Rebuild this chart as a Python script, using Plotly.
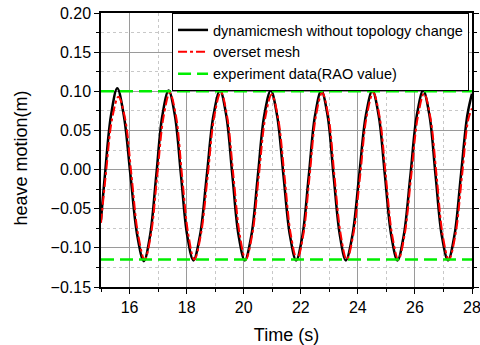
import plotly.graph_objects as go

# ---- data ----
t_dyn = [15.00, 15.135, 15.35, 15.57, 15.80, 16.035, 16.27, 16.50, 16.72, 16.935, 17.15, 17.37,
         17.59, 17.805, 18.02, 18.24, 18.47, 18.705, 18.94, 19.17, 19.39, 19.605, 19.82, 20.04,
         20.27, 20.495, 20.72, 20.95, 21.17, 21.395, 21.62, 21.84, 22.06, 22.28, 22.50, 22.72,
         22.94, 23.15, 23.37, 23.58, 23.81, 24.045, 24.28, 24.51, 24.73, 24.95, 25.17, 25.39,
         25.61, 25.84, 26.065, 26.29, 26.51, 26.725, 26.94, 27.16, 27.385, 27.61, 27.835, 28.00]
h_dyn = [-0.064, -0.008, 0.069, 0.104, 0.069, -0.008, -0.084, -0.117, -0.084, -0.008, 0.069, 0.101,
         0.069, -0.008, -0.084, -0.116, -0.084, -0.008, 0.069, 0.101, 0.069, -0.008, -0.084, -0.116,
         -0.084, -0.008, 0.069, 0.101, 0.069, -0.008, -0.084, -0.116, -0.084, -0.008, 0.069, 0.101,
         0.069, -0.008, -0.084, -0.116, -0.084, -0.008, 0.069, 0.101, 0.069, -0.008, -0.084, -0.116,
         -0.084, -0.008, 0.069, 0.101, 0.069, -0.008, -0.084, -0.116, -0.084, -0.008, 0.069, 0.097]

t_ovs = [15.00, 15.17, 15.39, 15.61, 15.84, 16.07, 16.30, 16.53, 16.75, 16.97, 17.19, 17.41,
         17.63, 17.84, 18.06, 18.27, 18.50, 18.74, 18.97, 19.20, 19.42, 19.64, 19.86, 20.07,
         20.30, 20.53, 20.76, 20.98, 21.20, 21.43, 21.65, 21.87, 22.09, 22.31, 22.53, 22.75,
         22.97, 23.18, 23.40, 23.61, 23.84, 24.08, 24.31, 24.54, 24.76, 24.98, 25.20, 25.42,
         25.64, 25.87, 26.10, 26.32, 26.54, 26.76, 26.97, 27.19, 27.42, 27.65, 27.87, 28.00]
h_ovs = [-0.068, -0.006, 0.065, 0.093, 0.066, -0.008, -0.083, -0.115, -0.083, -0.008, 0.067, 0.098,
         0.068, -0.008, -0.083, -0.115, -0.083, -0.008, 0.068, 0.099, 0.068, -0.008, -0.083, -0.115,
         -0.083, -0.008, 0.067, 0.096, 0.067, -0.008, -0.083, -0.115, -0.083, -0.008, 0.068, 0.098,
         0.068, -0.008, -0.083, -0.115, -0.083, -0.008, 0.068, 0.098, 0.068, -0.008, -0.083, -0.115,
         -0.083, -0.008, 0.067, 0.097, 0.067, -0.008, -0.083, -0.115, -0.083, -0.008, 0.064, 0.078]

rao_t = [15, 28]
rao_upper = 0.100
rao_lower = -0.115

names = ["dynamicmesh without topology change", "overset mesh", "experiment data(RAO value)"]

FONT = "Liberation Sans, Arial, sans-serif"

fig = go.Figure()
fig.add_trace(go.Scatter(x=t_dyn, y=h_dyn, mode="lines", name=names[0],
                         line=dict(color="black", width=2.5, shape="spline")))
fig.add_trace(go.Scatter(x=t_ovs, y=h_ovs, mode="lines", name=names[1],
                         line=dict(color="#ff0000", width=2, dash="dashdot", shape="spline")))
fig.add_trace(go.Scatter(x=rao_t + [None] + rao_t,
                         y=[rao_upper, rao_upper, None, rao_lower, rao_lower],
                         mode="lines", name=names[2],
                         line=dict(color="#00ee00", width=2.5, dash="13px,6px")))

axis_common = dict(
    showline=True, linecolor="black", linewidth=1.5,
    ticks="outside", ticklen=5, tickwidth=1.2, tickcolor="black",
    showgrid=True, gridcolor="#9a9a9a", gridwidth=1,
    zeroline=False, automargin=False, ticklabeloverflow="allow",
    tickfont=dict(family=FONT, size=16, color="black"),
)

fig.update_xaxes(**axis_common, range=[15, 28], tick0=16, dtick=2, mirror=True,
                 minor=dict(dtick=1, ticks="outside", ticklen=3, tickcolor="black",
                            showgrid=True, gridcolor="#c8c8c8", griddash="dot", gridwidth=1),
                 title=dict(text="Time (s)", font=dict(family=FONT, size=18, color="black"),
                            standoff=14))
fig.update_yaxes(**axis_common, range=[-0.15, 0.20], tick0=0, dtick=0.05, tickformat=".2f",
                 mirror="allticks",
                 minor=dict(dtick=0.025, ticks="outside", ticklen=3, tickcolor="black",
                            showgrid=True, gridcolor="#c8c8c8", griddash="dot", gridwidth=1))

fig.add_annotation(text="heave motion(m)", textangle=-90, xref="paper", yref="paper",
                   x=-0.215, y=0.47, xanchor="center", yanchor="middle", showarrow=False,
                   font=dict(family=FONT, size=18, color="black"))

fig.update_layout(
    width=480, height=345,
    margin=dict(l=101, r=8, t=13, b=58),
    paper_bgcolor="white", plot_bgcolor="white",
    legend=dict(x=0.992, y=1.0, xanchor="right", yanchor="top",
                bgcolor="white", bordercolor="black", borderwidth=1,
                font=dict(family=FONT, size=14.5, color="black"),
                tracegroupgap=0, itemwidth=30),
    showlegend=True,
)

fig.write_html("out.html")
